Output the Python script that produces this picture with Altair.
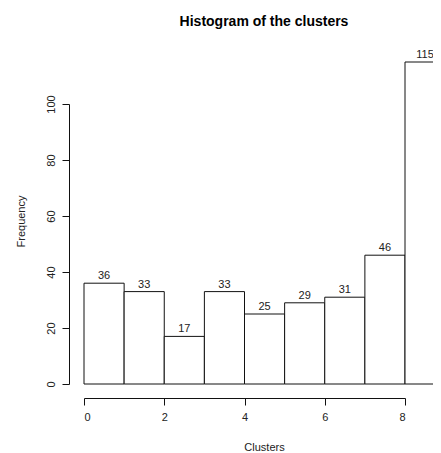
import altair as alt
import pandas as pd

bin_start = [0, 1, 2, 3, 4, 5, 6, 7, 8]
bin_end = [1, 2, 3, 4, 5, 6, 7, 8, 9]
counts = [36, 33, 17, 33, 25, 29, 31, 46, 115]
x_ticks = [0, 2, 4, 6, 8]
y_ticks = [0, 20, 40, 60, 80, 100]
title_text = "Histogram of the clusters"

df = pd.DataFrame({"start": bin_start, "end": bin_end, "count": counts})

FONT = "Liberation Sans"
TXT = "#222222"

base = alt.Chart(df)

bars = base.mark_bar(fill="white", stroke="#111111", strokeWidth=1, clip=False).encode(
    x=alt.X(
        "start:Q",
        scale=alt.Scale(domain=[0, 8], nice=False, zero=False),
        axis=alt.Axis(
            values=x_ticks, offset=14, grid=False, tickSize=7, labelPadding=6,
            format="d", title="Clusters", titleX=180, titleY=49,
            titleBaseline="middle", titleAlign="center",
        ),
    ),
    x2="end:Q",
    y=alt.Y(
        "count:Q",
        scale=alt.Scale(domain=[0, 100], nice=False, zero=True),
        axis=alt.Axis(
            values=y_ticks, offset=15, grid=False, tickSize=7, labelPadding=6,
            labelAngle=270, format="d", title="Frequency", titleAngle=270,
            titleX=-48, titleY=117, titleBaseline="middle", titleAlign="center",
        ),
    ),
    y2=alt.datum(0),
)

labels = base.transform_calculate(mid="(datum.start + datum.end) / 2").mark_text(
    baseline="alphabetic", dy=-4, fontSize=11, font=FONT, color=TXT, clip=False
).encode(
    x="mid:Q",
    y="count:Q",
    text="count:Q",
)

title = alt.Chart(pd.DataFrame({"t": [title_text]})).mark_text(
    baseline="alphabetic", align="center", fontSize=14, fontWeight="bold", font=FONT, color="black"
).encode(
    x=alt.value(180),
    y=alt.value(-78),
    text="t:N",
)

chart = (
    alt.layer(bars, labels, title)
    .properties(
        width=321,
        height=280,
        autosize=alt.AutoSizeParams(type="none"),
        padding={"left": 76, "top": 96, "right": 28, "bottom": 69},
    )
    .configure_view(stroke=None)
    .configure_axis(
        domainColor="#111111", tickColor="#111111", domainWidth=1, tickWidth=1,
        labelFont=FONT, labelFontSize=11, labelColor=TXT,
        titleFont=FONT, titleFontSize=11, titleColor=TXT, titleFontWeight="normal",
    )
)

chart.save("out.html", embed_options={"renderer": "svg", "actions": False})
